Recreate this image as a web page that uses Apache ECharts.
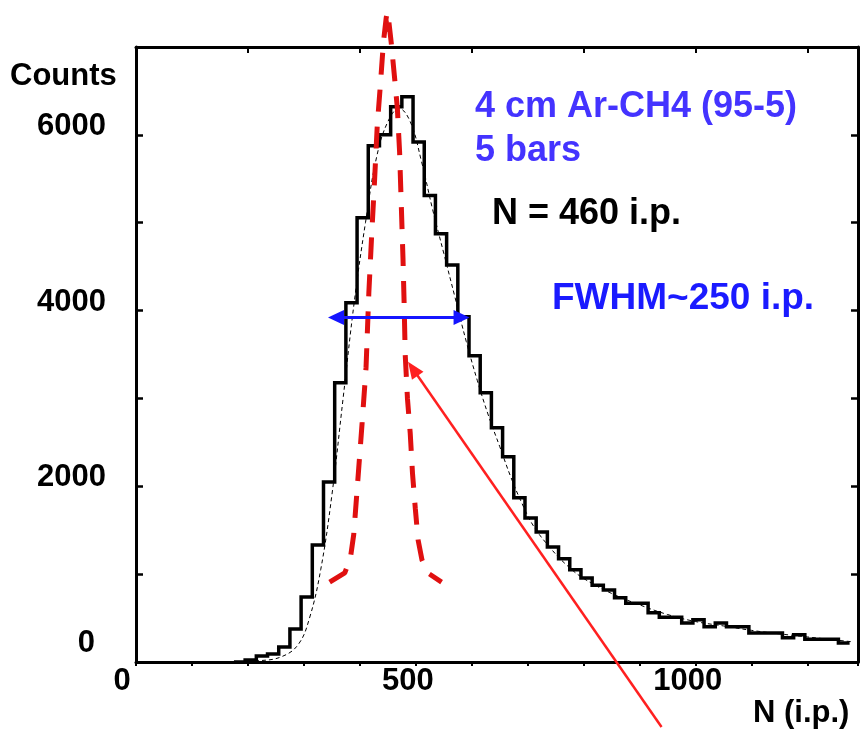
<!DOCTYPE html>
<html>
<head>
<meta charset="utf-8">
<script src="https://cdn.jsdelivr.net/npm/echarts@6/dist/echarts.min.js"></script>
<style>html,body{margin:0;padding:0;background:#fff;}#c{width:862px;height:732px;}</style>
</head>
<body>
<div id="c"></div>
<script>
// ---- data ----
const binEdges = [175,195,215,235,255,275,295,315,335,355,375,395,415,435,455,475,495,515,535,555,575,595,615,635,655,675,695,715,735,755,775,795,815,835,855,875,895,915,935,955,975,995,1015,1035,1055,1075,1095,1115,1135,1155,1175,1195,1215,1235,1255];
const counts   = [0,23,68,91,171,376,740,1333,2050,3178,4089,5057,5877,6002,6321,6435,5920,5310,4875,4520,3930,3485,3065,2665,2335,1870,1640,1480,1310,1175,1050,955,875,820,730,670,670,560,510,510,445,480,400,445,400,400,330,330,330,275,310,260,260,260,215];
const lastEdge = 1275;

const fitX = [150,220,260,290,310,330,350,370,390,410,430,450,470,490,510,530,550,570,590,610,630,650,670,690,710,740,770,800,850,900,950,1000,1050,1100,1150,1200,1250,1280];
const fitY = [0,15,60,200,500,1050,1900,3000,4100,5000,5750,6150,6300,6150,5700,5150,4650,4150,3650,3200,2800,2450,2100,1800,1550,1300,1100,950,780,650,540,460,410,360,320,285,250,230];

const poisX = [346,373,383,389,396,404,411,416,421,426,431,437,442,447,449,451,456,462,467,471,474,477,479,481,485,490,494,499,504,511,521,546];
const poisY = [910,1015,1180,1450,2040,2720,3350,4200,4850,5450,6100,6600,7050,7330,7400,7330,7050,6650,6300,5800,5200,4600,4100,3500,3000,2600,2150,1750,1390,1160,1015,910];
const poisTip = [449, 7350];

const fwhmX = [343, 596];
const fwhmLevel = 3920;
const pointerFrom = [939, -740];
const pointerTo = [486, 3417];

const xTicks = [0, 500, 1000];
const yTicks = [0, 2000, 4000, 6000];

// ---- chart ----
const FONT = "'Liberation Sans', Arial, Helvetica, sans-serif";
const chart = echarts.init(document.getElementById('c'), null, {renderer: 'canvas'});

const histData = binEdges.map((e, i) => [e, counts[i]]);
histData.push([lastEdge, counts[counts.length - 1]]);

function arrowShapes(api, p1, p2, headAtStart, headAtEnd, color, lw, L, W) {
  const dx = p2[0] - p1[0], dy = p2[1] - p1[1];
  const len = Math.sqrt(dx * dx + dy * dy);
  const ux = dx / len, uy = dy / len;
  const px = -uy, py = ux;
  const s = headAtStart ? [p1[0] + ux * L * 0.8, p1[1] + uy * L * 0.8] : p1;
  const e = headAtEnd ? [p2[0] - ux * L * 0.8, p2[1] - uy * L * 0.8] : p2;
  const children = [{type: 'line', shape: {x1: s[0], y1: s[1], x2: e[0], y2: e[1]}, style: {stroke: color, lineWidth: lw}}];
  if (headAtEnd) {
    const b = [p2[0] - ux * L, p2[1] - uy * L];
    children.push({type: 'polygon', shape: {points: [p2, [b[0] + px * W, b[1] + py * W], [b[0] - px * W, b[1] - py * W]]}, style: {fill: color}});
  }
  if (headAtStart) {
    const b = [p1[0] + ux * L, p1[1] + uy * L];
    children.push({type: 'polygon', shape: {points: [p1, [b[0] + px * W, b[1] + py * W], [b[0] - px * W, b[1] - py * W]]}, style: {fill: color}});
  }
  return {type: 'group', children};
}

const axisLineStyle = {color: '#000', width: 3};
const labelBase = {fontSize: 31, fontWeight: 'bold', fontFamily: FONT, color: '#000'};

const option = {
  animation: false,
  backgroundColor: '#fff',
  grid: {left: 136, right: 4, top: 47, bottom: 70, containLabel: false},
  xAxis: [
    {
      type: 'value', min: 0, max: 1290, interval: 100, position: 'bottom',
      axisLine: {show: true, onZero: false, lineStyle: axisLineStyle},
      axisTick: {show: true, inside: false, length: 4, lineStyle: {color: '#000', width: 2}},
      splitLine: {show: false},
      axisLabel: {
        show: true, margin: 4,
        formatter: v => xTicks.indexOf(v) < 0 ? '' : (v === 0 ? '{z|0}' : '{n|' + v + '}'),
        rich: {
          z: Object.assign({}, labelBase, {padding: [0, 28, 0, 0]}),
          n: Object.assign({}, labelBase, {padding: [0, 16, 0, 0]})
        }
      }
    },
    {
      type: 'value', min: 0, max: 1290, interval: 200, position: 'top',
      axisLine: {show: true, onZero: false, lineStyle: axisLineStyle},
      axisTick: {show: true, inside: true, length: 6, lineStyle: {color: '#000', width: 2}},
      splitLine: {show: false}, axisLabel: {show: false}
    }
  ],
  yAxis: [
    {
      type: 'value', min: 0, max: 7000, interval: 1000, position: 'left',
      axisLine: {show: true, onZero: false, lineStyle: axisLineStyle},
      axisTick: {show: true, inside: true, length: 7, lineStyle: {color: '#000', width: 2.5}},
      splitLine: {show: false},
      axisLabel: {
        show: true, margin: 30,
        formatter: v => yTicks.indexOf(v) < 0 ? '' : (v === 0 ? '{z|0}' : '{n|' + v + '}'),
        rich: {
          z: Object.assign({}, labelBase, {padding: [0, 11, 38, 0]}),
          n: Object.assign({}, labelBase, {padding: [0, 0, 17, 0]})
        }
      }
    },
    {
      type: 'value', min: 0, max: 7000, interval: 1000, position: 'right',
      axisLine: {show: true, onZero: false, lineStyle: axisLineStyle},
      axisTick: {show: true, inside: true, length: 7, lineStyle: {color: '#000', width: 2.5}},
      splitLine: {show: false}, axisLabel: {show: false}
    }
  ],
  series: [
    {
      name: 'fit', type: 'line', smooth: 0.4, symbol: 'none', silent: true,
      data: fitX.map((x, i) => [x, fitY[i]]),
      lineStyle: {color: '#000', width: 1, type: [4, 3]}, z: 2
    },
    {
      name: 'histogram', type: 'line', step: 'end', symbol: 'none', silent: true,
      data: histData,
      lineStyle: {color: '#000', width: 3.5, join: 'miter'}, z: 3
    },
    {
      name: 'poisson', type: 'line', symbol: 'none', clip: false, silent: true,
      data: poisX.map((x, i) => [x, poisY[i]]),
      lineStyle: {color: '#e01010', width: 5, type: [22, 15], cap: 'butt'}, z: 4
    },
    {
      name: 'tip', type: 'scatter', clip: false, silent: true,
      data: [poisTip], symbol: 'pin', symbolRotate: 180, symbolSize: [11, 18],
      itemStyle: {color: '#e01010'}, z: 4
    },
    {
      name: 'fwhm', type: 'custom', clip: false, silent: true, z: 5,
      data: [[fwhmX[0], fwhmLevel, fwhmX[1], fwhmLevel]],
      renderItem: (params, api) => {
        const p1 = api.coord([api.value(0), api.value(1)]);
        const p2 = api.coord([api.value(2), api.value(3)]);
        return arrowShapes(api, p1, p2, true, true, '#1515ff', 3, 16, 7.5);
      }
    },
    {
      name: 'pointer', type: 'custom', clip: false, silent: true, z: 5,
      data: [[pointerFrom[0], pointerFrom[1], pointerTo[0], pointerTo[1]]],
      renderItem: (params, api) => {
        const p1 = api.coord([api.value(0), api.value(1)]);
        const p2 = api.coord([api.value(2), api.value(3)]);
        return arrowShapes(api, p1, p2, false, true, '#ff2020', 2.5, 17, 7);
      }
    }
  ],
  graphic: [
    {type: 'text', x: 10, y: 76, style: {text: 'Counts', font: 'bold 31px ' + FONT, fill: '#000', align: 'left', verticalAlign: 'middle'}},
    {type: 'text', x: 753, y: 713, style: {text: 'N (i.p.)', font: 'bold 31px ' + FONT, fill: '#000', align: 'left', verticalAlign: 'middle'}},
    {type: 'text', x: 475, y: 107, style: {text: '4 cm Ar-CH4 (95-5)', font: 'bold 36px ' + FONT, fill: '#4433ff', align: 'left', verticalAlign: 'middle'}},
    {type: 'text', x: 475, y: 151, style: {text: '5 bars', font: 'bold 36px ' + FONT, fill: '#4433ff', align: 'left', verticalAlign: 'middle'}},
    {type: 'text', x: 492, y: 214, style: {text: 'N = 460 i.p.', font: 'bold 36px ' + FONT, fill: '#000', align: 'left', verticalAlign: 'middle'}},
    {type: 'text', x: 552, y: 299, style: {text: 'FWHM~250 i.p.', font: 'bold 37px ' + FONT, fill: '#1a1aff', align: 'left', verticalAlign: 'middle'}}
  ]
};
chart.setOption(option);
</script>
</body>
</html>
